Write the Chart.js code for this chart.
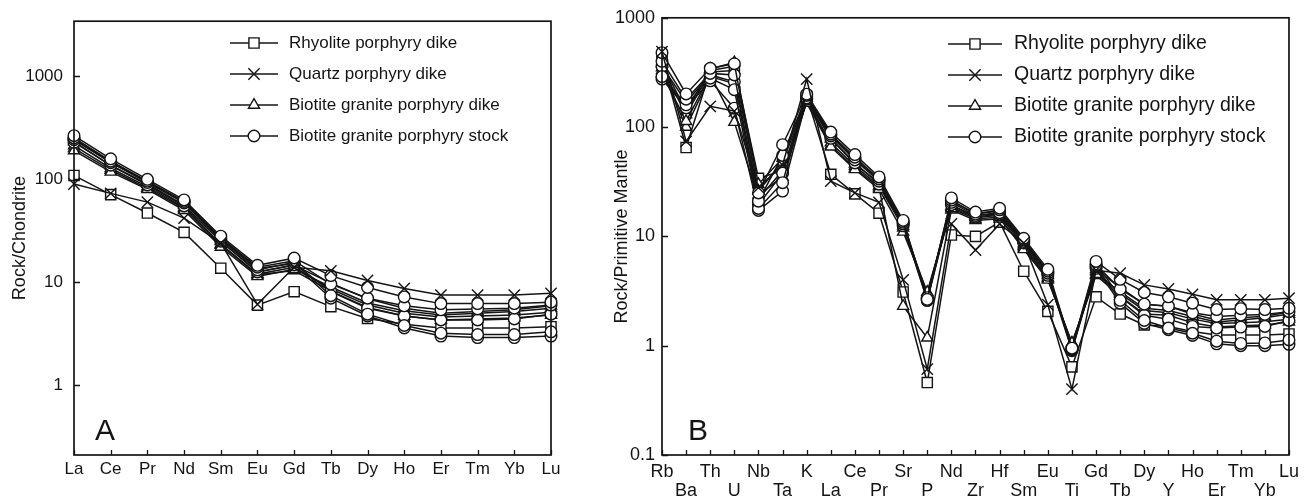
<!DOCTYPE html>
<html>
<head>
<meta charset="utf-8">
<title>REE and trace element patterns</title>
<script src="https://cdn.jsdelivr.net/npm/chart.js@4.4.1/dist/chart.umd.min.js"></script>
<style>
  html, body { margin: 0; padding: 0; background: #fff; }
  #wrap { position: relative; width: 1307px; height: 499px; overflow: hidden; background: #fff; }
  #wrap canvas { position: absolute; top: 0; }
  #ca { left: 0; }
  #cb { left: 600px; }
</style>
</head>
<body>
<div id="wrap">
  <canvas id="ca" width="600" height="499"></canvas>
  <canvas id="cb" width="707" height="499"></canvas>
</div>
<script>
// ---- categories and tick labels ----
const reeElements = ['La', 'Ce', 'Pr', 'Nd', 'Sm', 'Eu', 'Gd', 'Tb', 'Dy', 'Ho', 'Er', 'Tm', 'Yb', 'Lu'];
const spiderElements = ['Rb', 'Ba', 'Th', 'U', 'Nb', 'Ta', 'K', 'La', 'Ce', 'Pr', 'Sr', 'P', 'Nd', 'Zr',
  'Hf', 'Sm', 'Eu', 'Ti', 'Gd', 'Tb', 'Dy', 'Y', 'Ho', 'Er', 'Tm', 'Yb', 'Lu'];
const reeTicks = [1, 10, 100, 1000];
const spiderTicks = [0.1, 1, 10, 100, 1000];
const groupNames = ['Rhyolite porphyry dike', 'Quartz porphyry dike',
  'Biotite granite porphyry dike', 'Biotite granite porphyry stock'];

// ---- chondrite-normalised REE (one row per sample) ----
const reeRhyolite = [
  [109, 71, 47, 30.5, 13.7, 6.0, 8.1, 5.8, 4.45, 3.9, 3.6, 3.6, 3.6, 3.7]
];
const reeQuartz = [
  [90, 73, 60, 42, 24, 6.1, 14, 12.9, 10.4, 8.7, 7.5, 7.5, 7.5, 7.8]
];
const reeBtDike = [
  [190, 118, 80, 50, 22, 11.4, 13.4, 9.0, 6.3, 5.3, 4.8, 5.0, 5.2, 5.6],
  [212, 128, 85, 53, 23.5, 12.0, 14.0, 8.6, 6.0, 5.0, 4.6, 4.7, 4.8, 5.1],
  [232, 136, 90, 56, 25, 12.6, 14.6, 9.8, 6.9, 5.6, 5.0, 5.2, 5.4, 5.9],
  [200, 123, 82, 52, 23, 11.8, 13.0, 8.2, 5.7, 4.7, 4.3, 4.4, 4.5, 4.8]
];
const reeBtStock = [
  [265, 158, 100, 63, 28, 14.6, 17.2, 11.6, 8.9, 7.2, 6.2, 6.2, 6.2, 6.4],
  [252, 150, 96, 61, 27, 14.0, 16.2, 9.6, 7.0, 5.9, 5.4, 5.5, 5.6, 6.0],
  [242, 145, 93, 59, 26, 13.2, 15.6, 7.4, 4.9, 3.8, 3.2, 3.1, 3.1, 3.3],
  [228, 137, 88, 55, 25, 12.6, 14.8, 7.0, 4.7, 3.6, 3.0, 2.9, 2.9, 3.0],
  [246, 148, 95, 60, 26.5, 13.6, 15.2, 8.1, 5.6, 4.7, 4.3, 4.3, 4.4, 4.9]
];

// ---- primitive-mantle-normalised trace elements (one row per sample) ----
const spiderRhyolite = [
  [420, 65, 330, 360, 34, 40, 190, 37, 24.5, 16.3, 3.1, 0.46, 10.3, 10.0, 13.5, 4.8, 2.06, 0.64, 2.8, 1.95, 1.55, 1.5, 1.35, 1.25, 1.25, 1.25, 1.28]
];
const spiderQuartz = [
  [490, 74, 155, 140, 28, 45, 275, 32, 25, 20.5, 4.0, 0.61, 13, 7.5, 13, 8.7, 2.37, 0.40, 4.9, 4.6, 3.6, 3.3, 2.95, 2.63, 2.63, 2.63, 2.72]
];
const spiderBtDike = [
  [310, 113, 300, 111, 22, 40, 166, 66, 41, 27, 11, 3.1, 18, 14.5, 15, 7.6, 4.0, 1.06, 4.5, 3.1, 2.2, 2.1, 1.85, 1.65, 1.72, 1.8, 1.95],
  [350, 130, 320, 330, 26, 48, 175, 72, 44, 29, 12, 2.9, 18.5, 15, 15.5, 8.2, 4.2, 1.0, 4.8, 3.0, 2.1, 2.0, 1.75, 1.6, 1.62, 1.66, 1.75],
  [380, 140, 340, 390, 30, 52, 185, 78, 46, 31, 12.5, 3.0, 19, 15.5, 16, 8.6, 4.4, 0.98, 5.0, 3.4, 2.4, 2.3, 1.95, 1.72, 1.8, 1.86, 2.03],
  [330, 100, 290, 250, 24, 35, 170, 68, 42, 28, 2.3, 1.18, 17.5, 14, 14.5, 7.9, 4.1, 1.06, 4.4, 2.85, 1.95, 1.9, 1.62, 1.48, 1.52, 1.55, 1.65]
];
const spiderBtStock = [
  [480, 201, 345, 380, 25, 69, 200, 90, 56, 35, 14, 2.65, 22.5, 16.7, 18.1, 9.6, 5.0, 0.95, 5.9, 4.05, 3.07, 2.8, 2.45, 2.14, 2.18, 2.14, 2.2],
  [400, 180, 310, 300, 21, 55, 195, 86, 53, 33.5, 13.5, 2.75, 21.5, 16, 17.5, 9.3, 4.8, 0.93, 5.5, 3.3, 2.4, 2.3, 2.0, 1.85, 1.9, 1.93, 2.05],
  [290, 160, 280, 220, 18, 31, 185, 83, 50, 32, 13, 2.6, 20.5, 15.5, 16.5, 9.0, 4.6, 0.92, 5.3, 2.6, 1.7, 1.45, 1.3, 1.1, 1.05, 1.06, 1.13],
  [275, 150, 265, 149, 17.3, 26, 180, 79, 47, 30, 12.5, 2.6, 19.5, 15, 16, 8.7, 4.4, 0.9, 5.1, 2.45, 1.6, 1.4, 1.24, 1.04, 1.0, 1.0, 1.03],
  [360, 170, 300, 260, 19.5, 38, 190, 85, 51, 33, 13.2, 2.7, 21, 16.2, 17, 9.2, 4.7, 0.94, 5.6, 2.8, 1.9, 1.75, 1.5, 1.45, 1.48, 1.5, 1.7]
];

// ---- styling ----
const FONT = "'Liberation Sans', Arial, Helvetica, sans-serif";
const INK = '#141414';
const markerStyles = [
  { pointStyle: 'rect', radius: 7.2, order: 3 },
  { pointStyle: 'crossRot', radius: 8, order: 0 },
  { pointStyle: 'triangle', radius: 6.4, order: 2 },
  { pointStyle: 'circle', radius: 5.8, order: 1 }
];

function buildDatasets(groups) {
  const sets = [];
  groups.forEach((samples, g) => {
    const m = markerStyles[g];
    samples.forEach((values, k) => {
      sets.push({
        label: groupNames[g] + ' ' + (k + 1),
        data: values,
        borderColor: INK,
        borderWidth: 1.5,
        backgroundColor: '#fff',
        pointBackgroundColor: '#fff',
        pointBorderColor: INK,
        pointBorderWidth: 1.4,
        pointStyle: m.pointStyle,
        pointRadius: m.radius,
        pointHoverRadius: m.radius,
        order: m.order,
        tension: 0,
        clip: false,
        fill: false
      });
    });
  });
  return sets;
}

// frame, inward tick marks, panel letter and the symbol legend
const panelDecor = {
  id: 'panelDecor',
  afterDraw(chart, args, o) {
    const { ctx, chartArea: a, scales } = chart;
    ctx.save();
    ctx.strokeStyle = INK;
    ctx.lineWidth = 1.7;
    ctx.strokeRect(a.left, a.top, a.right - a.left, a.bottom - a.top);

    ctx.lineWidth = 1.3;
    ctx.beginPath();
    scales.x.ticks.forEach((t, i) => {
      const px = Math.round(scales.x.getPixelForTick(i)) + 0.5;
      ctx.moveTo(px, a.bottom);
      ctx.lineTo(px, a.bottom - o.tickLen);
    });
    scales.y.ticks.forEach(t => {
      const py = Math.round(scales.y.getPixelForValue(t.value)) + 0.5;
      ctx.moveTo(a.left, py);
      ctx.lineTo(a.left + o.tickLen + 1, py);
    });
    ctx.stroke();

    ctx.fillStyle = INK;
    ctx.font = o.letterFont;
    ctx.textBaseline = 'alphabetic';
    ctx.textAlign = 'left';
    ctx.fillText(o.letter, o.letterX, o.letterY);

    // legend: line with marker, then the group name
    ctx.font = o.legendFont;
    ctx.textBaseline = 'middle';
    groupNames.forEach((name, i) => {
      const y = o.legendY + i * o.legendGap;
      ctx.strokeStyle = INK;
      ctx.lineWidth = 1.5;
      ctx.beginPath();
      ctx.moveTo(o.lineX0, y);
      ctx.lineTo(o.lineX1, y);
      ctx.stroke();
      const m = markerStyles[i];
      ctx.fillStyle = '#fff';
      ctx.strokeStyle = INK;
      ctx.lineWidth = 1.4;
      Chart.helpers.drawPoint(ctx, { pointStyle: m.pointStyle, radius: m.radius, rotation: 0, borderWidth: 1.4 },
        (o.lineX0 + o.lineX1) / 2, y);
      ctx.fillStyle = INK;
      ctx.fillText(name, o.textX, y);
    });
    ctx.restore();
  }
};

function makeChart(canvasId, cfg) {
  return new Chart(document.getElementById(canvasId), {
    type: 'line',
    data: { labels: cfg.labels, datasets: buildDatasets(cfg.groups) },
    options: {
      responsive: false,
      animation: false,
      events: [],
      layout: { padding: cfg.padding },
      plugins: {
        legend: { display: false },
        tooltip: { enabled: false },
        panelDecor: cfg.decor
      },
      scales: {
        x: {
          type: 'category',
          offset: false,
          grid: { display: false, drawTicks: false },
          border: { display: false },
          ticks: {
            autoSkip: false, maxRotation: 0, minRotation: 0,
            padding: cfg.xPad,
            color: INK,
            font: { family: FONT, size: cfg.xFont, lineHeight: cfg.xLine },
            callback: cfg.xLabel
          },
          afterFit: s => { s.height = 44; }
        },
        y: {
          type: 'logarithmic',
          min: cfg.yMin, max: cfg.yMax,
          bounds: 'data',
          grid: { display: false, drawTicks: false },
          border: { display: false },
          afterBuildTicks: s => { s.ticks = cfg.yTicks.map(v => ({ value: v })); },
          ticks: {
            padding: cfg.yPad,
            color: INK,
            font: { family: FONT, size: cfg.yFont },
            callback: v => String(v)
          },
          title: {
            display: true,
            text: cfg.yTitle,
            color: INK,
            font: { family: FONT, size: cfg.titleFont },
            padding: { top: cfg.titlePad, bottom: 0 }
          },
          afterFit: s => { s.width = cfg.yWidth; }
        }
      }
    },
    plugins: [panelDecor]
  });
}

// Panel A: chondrite-normalised REE patterns
makeChart('ca', {
  labels: reeElements,
  groups: [reeRhyolite, reeQuartz, reeBtDike, reeBtStock],
  padding: { left: 0, top: 14, right: 49, bottom: 0 },
  yMin: 0.21, yMax: 3430, yTicks: reeTicks,
  yTitle: 'Rock/Chondrite', yWidth: 74, yPad: 11, yFont: 17,
  titleFont: 18, titlePad: 9,
  xPad: 4, xFont: 17, xLine: 1.2,
  xLabel: function (v, i) { return this.getLabelForValue(v); },
  decor: {
    tickLen: 5, letter: 'A', letterFont: '30px ' + FONT, letterX: 95, letterY: 440,
    legendFont: '17px ' + FONT, legendY: 43, legendGap: 31,
    lineX0: 230, lineX1: 278, textX: 289
  }
});

// Panel B: primitive-mantle-normalised spider diagram, labels staggered on two rows
makeChart('cb', {
  labels: spiderElements,
  groups: [spiderRhyolite, spiderQuartz, spiderBtDike, spiderBtStock],
  padding: { left: 0, top: 14, right: 11, bottom: 0 },
  yMin: 0.1, yMax: 1000, yTicks: spiderTicks,
  yTitle: 'Rock/Primitive Mantle', yWidth: 62, yPad: 7, yFont: 18,
  titleFont: 18, titlePad: 11,
  xPad: 8, xFont: 18, xLine: 1.05,
  xLabel: function (v, i) {
    const name = this.getLabelForValue(v);
    return i % 2 === 0 ? name : ['', name];
  },
  decor: {
    tickLen: 5, letter: 'B', letterFont: '30px ' + FONT, letterX: 88, letterY: 440,
    legendFont: '19.5px ' + FONT, legendY: 44, legendGap: 31,
    lineX0: 348, lineX1: 402, textX: 414
  }
});
</script>
</body>
</html>
